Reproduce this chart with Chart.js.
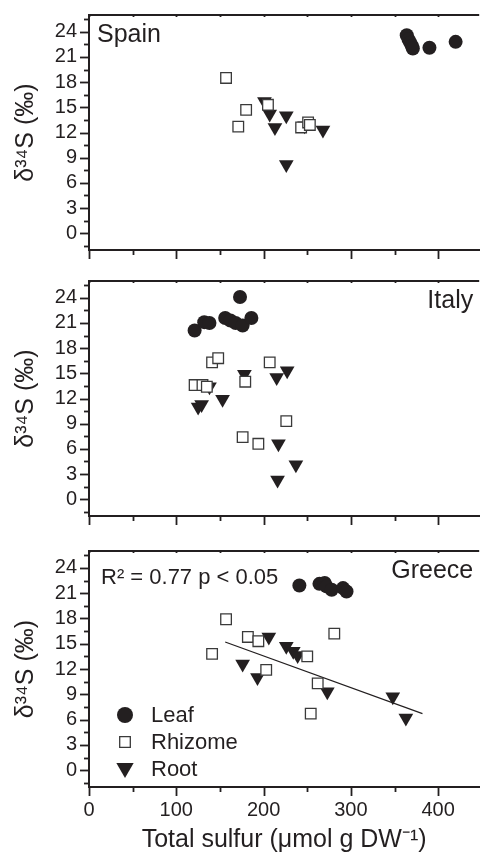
<!DOCTYPE html>
<html>
<head>
<meta charset="utf-8">
<script src="https://cdn.jsdelivr.net/npm/chart.js@4.4.1/dist/chart.umd.min.js"></script>
<style>
  html, body { margin: 0; padding: 0; background: #fff; }
  body { width: 488px; height: 856px; position: relative; overflow: hidden; }
  canvas { position: absolute; left: 0; }
</style>
</head>
<body>
<canvas id="spain" width="488" height="270" style="top:0px"></canvas>
<canvas id="italy" width="488" height="270" style="top:266px"></canvas>
<canvas id="greece" width="488" height="320" style="top:536px"></canvas>
<script>
// Axis setup
const xMin = 0;
const xMax = 447;
const xTicks = [0, 50, 100, 150, 200, 250, 300, 350, 400];
const yMin = -2;
const yMax = 26;
const yTicks = [-1.5, 0, 1.5, 3, 4.5, 6, 7.5, 9, 10.5, 12, 13.5, 15, 16.5, 18, 19.5, 21, 22.5, 24, 25.5];

const seriesNames = ['Leaf', 'Rhizome', 'Root'];

// Spain
const spainLeaf = [
  { x: 364, y: 23.6 }, { x: 366, y: 23.1 }, { x: 368, y: 22.7 }, { x: 370, y: 22.3 },
  { x: 371, y: 22.0 }, { x: 390, y: 22.1 }, { x: 420, y: 22.8 }
];
const spainRhizome = [
  { x: 157, y: 18.5 }, { x: 180, y: 14.7 }, { x: 171, y: 12.7 }, { x: 205, y: 15.3 },
  { x: 243, y: 12.6 }, { x: 251, y: 13.2 }, { x: 253, y: 12.9 }
];
const spainRoot = [
  { x: 201, y: 15.7 }, { x: 207, y: 14.2 }, { x: 213, y: 12.6 }, { x: 226, y: 14.0 },
  { x: 226, y: 8.2 }, { x: 247, y: 12.8 }, { x: 268, y: 12.3 }
];

// Italy
const italyLeaf = [
  { x: 121, y: 20.1 }, { x: 132, y: 21.1 }, { x: 138, y: 21.0 }, { x: 156, y: 21.6 },
  { x: 162, y: 21.3 }, { x: 168, y: 21.0 }, { x: 176, y: 20.7 }, { x: 173, y: 24.1 },
  { x: 186, y: 21.6 }
];
const italyRhizome = [
  { x: 121, y: 13.6 }, { x: 130, y: 13.6 }, { x: 135, y: 13.4 }, { x: 141, y: 16.3 },
  { x: 148, y: 16.8 }, { x: 179, y: 14.0 }, { x: 207, y: 16.3 }, { x: 176, y: 7.4 },
  { x: 194, y: 6.6 }, { x: 226, y: 9.3 }
];
const italyRoot = [
  { x: 125, y: 11.0 }, { x: 129, y: 11.3 }, { x: 138, y: 13.4 }, { x: 153, y: 11.9 },
  { x: 178, y: 14.9 }, { x: 215, y: 14.5 }, { x: 227, y: 15.3 }, { x: 217, y: 6.6 },
  { x: 216, y: 2.3 }, { x: 237, y: 4.1 }
];

// Greece
const greeceLeaf = [
  { x: 241, y: 21.9 }, { x: 264, y: 22.1 }, { x: 270, y: 22.2 }, { x: 272, y: 21.8 },
  { x: 278, y: 21.4 }, { x: 291, y: 21.6 }, { x: 295, y: 21.2 }
];
const greeceRhizome = [
  { x: 141, y: 13.8 }, { x: 157, y: 17.9 }, { x: 182, y: 15.8 }, { x: 194, y: 15.3 },
  { x: 203, y: 11.9 }, { x: 250, y: 13.5 }, { x: 262, y: 10.3 }, { x: 254, y: 6.7 },
  { x: 281, y: 16.2 }
];
const greeceRoot = [
  { x: 206, y: 15.8 }, { x: 176, y: 12.6 }, { x: 193, y: 11.0 }, { x: 226, y: 14.7 },
  { x: 234, y: 14.1 }, { x: 239, y: 13.6 }, { x: 273, y: 9.3 }, { x: 348, y: 8.7 },
  { x: 363, y: 6.2 }
];
const greeceFit = [{ x: 156, y: 15.2 }, { x: 382, y: 6.7 }];

const ink = '#231f20';
const FONT = "'Liberation Sans', Arial, sans-serif";

function scatterSets(leaf, rhizome, root) {
  return [
    {
      label: seriesNames[0],
      data: leaf,
      pointStyle: 'circle',
      pointRadius: 7,
      backgroundColor: ink,
      borderColor: ink,
      borderWidth: 0
    },
    {
      label: seriesNames[1],
      data: rhizome,
      pointStyle: 'rect',
      pointRadius: 7.5,
      backgroundColor: '#ffffff',
      borderColor: '#3a3a3a',
      borderWidth: 1.3
    },
    {
      label: seriesNames[2],
      data: root,
      pointStyle: 'triangle',
      pointRotation: 180,
      pointRadius: 8.5,
      backgroundColor: ink,
      borderColor: ink,
      borderWidth: 0
    }
  ];
}

// Draws tick marks and the top frame line
const frameTicks = {
  id: 'frameTicks',
  afterDraw(chart) {
    const { ctx, chartArea, scales } = chart;
    ctx.save();
    ctx.strokeStyle = ink;
    ctx.lineWidth = 2;
    ctx.beginPath();
    ctx.moveTo(chartArea.left - 1, chartArea.top);
    ctx.lineTo(chartArea.right, chartArea.top);
    ctx.stroke();

    ctx.lineWidth = 1.8;
    yTicks.forEach(v => {
      const py = Math.round(scales.y.getPixelForValue(v)) + 0.5;
      const len = v % 3 === 0 ? 9 : 5;
      ctx.beginPath();
      ctx.moveTo(chartArea.left - len, py);
      ctx.lineTo(chartArea.left, py);
      ctx.stroke();
    });
    xTicks.forEach(v => {
      const px = Math.round(scales.x.getPixelForValue(v)) + 0.5;
      const len = v % 100 === 0 ? 9 : 5;
      ctx.beginPath();
      ctx.moveTo(px, chartArea.bottom);
      ctx.lineTo(px, chartArea.bottom + len);
      ctx.stroke();
      ctx.beginPath();
      ctx.moveTo(px, chartArea.top);
      ctx.lineTo(px, chartArea.top + 2);
      ctx.stroke();
    });
    ctx.restore();
  }
};

// Panel labels, statistics and legend
const panelText = {
  id: 'panelText',
  afterDatasetsDraw(chart, args, opts) {
    const { ctx, chartArea } = chart;
    ctx.save();
    ctx.fillStyle = ink;
    ctx.textBaseline = 'middle';
    ctx.font = '25px ' + FONT;
    if (opts.align === 'left') {
      ctx.textAlign = 'left';
      ctx.fillText(opts.label, chartArea.left + 8, chartArea.top + 20);
    } else {
      ctx.textAlign = 'right';
      ctx.fillText(opts.label, chartArea.right - 6, chartArea.top + 20);
    }
    if (opts.stats) {
      ctx.textAlign = 'left';
      ctx.font = '22px ' + FONT;
      ctx.fillText(opts.stats, chartArea.left + 12, chartArea.top + 27);
    }
    if (opts.legend) {
      const sets = chart.data.datasets.slice(0, 3);
      const rows = [715, 742, 769].map(v => v - 536);
      sets.forEach((ds, i) => {
        const cx = 125;
        const cy = rows[i] + (i === 2 ? -1 : 0);
        ctx.fillStyle = ds.backgroundColor;
        ctx.strokeStyle = ds.borderColor;
        ctx.lineWidth = ds.borderWidth;
        Chart.helpers.drawPoint(ctx, {
          pointStyle: ds.pointStyle,
          rotation: ds.pointRotation || 0,
          radius: i === 0 ? 8 : (i === 2 ? 10 : ds.pointRadius),
          borderWidth: ds.borderWidth
        }, cx, cy);
        ctx.fillStyle = ink;
        ctx.font = '22px ' + FONT;
        ctx.textAlign = 'left';
        ctx.fillText(ds.label, 151, rows[i] + 1);
      });
    }
    ctx.restore();
  }
};

function makePanel(id, datasets, textOpts, isBottom) {
  const ctx = document.getElementById(id).getContext('2d');
  return new Chart(ctx, {
    type: 'scatter',
    data: { datasets },
    plugins: [frameTicks, panelText],
    options: {
      responsive: false,
      animation: false,
      layout: { padding: { top: 10, right: 0, left: 0, bottom: 0 } },
      plugins: {
        legend: { display: false },
        tooltip: { enabled: false },
        panelText: textOpts
      },
      scales: {
        x: {
          type: 'linear',
          min: xMin,
          max: xMax,
          afterBuildTicks: scale => { scale.ticks = xTicks.map(v => ({ value: v })); },
          afterFit: scale => { scale.height = isBottom ? 69 : 20; },
          grid: { display: false, drawTicks: true, tickLength: 8 },
          border: { display: true, color: ink, width: 2 },
          ticks: {
            display: isBottom,
            autoSkip: false,
            maxRotation: 0,
            padding: 3,
            color: ink,
            font: { family: FONT, size: 20 },
            callback: v => (v % 100 === 0 ? String(v) : '')
          },
          title: {
            display: isBottom,
            text: 'Total sulfur (μmol g DW⁻¹)',
            color: ink,
            font: { family: FONT, size: 25 },
            padding: { top: 0, bottom: 1 }
          }
        },
        y: {
          type: 'linear',
          min: yMin,
          max: yMax,
          afterBuildTicks: scale => { scale.ticks = yTicks.map(v => ({ value: v })); },
          afterFit: scale => { scale.width = 89; },
          grid: { display: false, drawTicks: true, tickLength: 9 },
          border: { display: true, color: ink, width: 2 },
          ticks: {
            autoSkip: false,
            padding: 3,
            color: ink,
            font: { family: FONT, size: 20 },
            callback: v => (v % 3 === 0 ? String(v) : '')
          },
          title: {
            display: true,
            text: 'δ³⁴S (‰)',
            color: ink,
            font: { family: FONT, size: 25 },
            padding: { top: 11, bottom: 0 }
          }
        }
      }
    }
  });
}

makePanel('spain', scatterSets(spainLeaf, spainRhizome, spainRoot),
  { label: 'Spain', align: 'left' }, false);

makePanel('italy', scatterSets(italyLeaf, italyRhizome, italyRoot),
  { label: 'Italy', align: 'right' }, false);

const greeceSets = scatterSets(greeceLeaf, greeceRhizome, greeceRoot);
greeceSets.push({
  type: 'line',
  label: 'Fit',
  data: greeceFit,
  borderColor: ink,
  borderWidth: 1.2,
  pointRadius: 0,
  fill: false,
  order: 5
});
makePanel('greece', greeceSets,
  { label: 'Greece', align: 'right', stats: 'R² = 0.77 p < 0.05', legend: true }, true);
</script>
</body>
</html>
